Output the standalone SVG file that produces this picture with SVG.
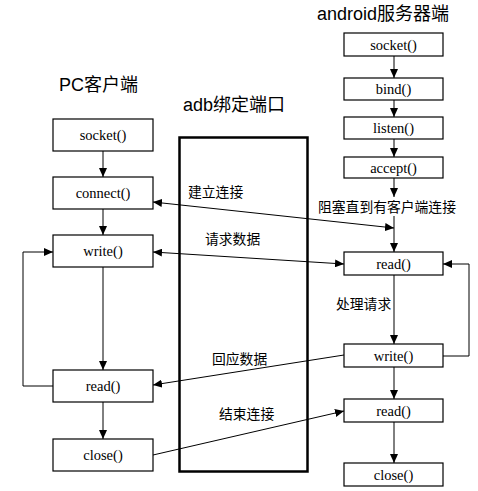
<svg xmlns="http://www.w3.org/2000/svg" width="478" height="491" viewBox="0 0 478 491">
<style>
.box{fill:#fff;stroke:#000;stroke-width:1.2}
.bt{font-family:"Liberation Serif","Times New Roman",serif;font-size:14.5px;fill:#000;text-anchor:middle}
.title{font-family:"Liberation Sans","Noto Sans CJK SC",sans-serif;font-size:18px;fill:#000}
.lbl{font-family:"Liberation Sans","Noto Sans CJK SC",sans-serif;font-size:13.8px;fill:#000}
.ln{fill:none;stroke:#000;stroke-width:1}
.arr{marker-end:url(#ah)}
.dbl{marker-start:url(#ah);marker-end:url(#ah)}
</style>
<defs>
<marker id="ah" viewBox="0 0 9 8" refX="9" refY="4" markerWidth="9" markerHeight="8" markerUnits="userSpaceOnUse" orient="auto-start-reverse">
<path d="M0,0 L9,4 L0,8 z" fill="#000"/>
</marker>
</defs>
<rect width="478" height="491" fill="#fff"/>
<g id="titles">
<text class="title" x="59" y="91">PC客户端</text>
<text class="title" x="183" y="111">adb绑定端口</text>
<text class="title" x="317" y="20">android服务器端</text>
</g>
<g id="adb">
<rect x="179.5" y="137.5" width="128" height="334" fill="none" stroke="#000" stroke-width="2.5"/>
</g>
<g id="pc-socket"><rect class="box" x="53" y="119" width="100" height="32"/><text class="bt" x="103" y="140">socket()</text></g>
<g id="pc-connect"><rect class="box" x="53" y="177" width="100" height="32"/><text class="bt" x="103" y="198">connect()</text></g>
<g id="pc-write"><rect class="box" x="53" y="235" width="100" height="32"/><text class="bt" x="103" y="256">write()</text></g>
<g id="pc-read"><rect class="box" x="53" y="370" width="100" height="32"/><text class="bt" x="103" y="391">read()</text></g>
<g id="pc-close"><rect class="box" x="53" y="439" width="100" height="32"/><text class="bt" x="103" y="460">close()</text></g>
<g id="an-socket"><rect class="box" x="344" y="33" width="99" height="23"/><text class="bt" x="393.5" y="49.5">socket()</text></g>
<g id="an-bind"><rect class="box" x="344" y="78" width="99" height="22"/><text class="bt" x="393.5" y="94">bind()</text></g>
<g id="an-listen"><rect class="box" x="344" y="117" width="99" height="22"/><text class="bt" x="393.5" y="133">listen()</text></g>
<g id="an-accept"><rect class="box" x="344" y="157" width="99" height="21"/><text class="bt" x="393.5" y="172.5">accept()</text></g>
<g id="an-read1"><rect class="box" x="344" y="252" width="99" height="23"/><text class="bt" x="393.5" y="268.5">read()</text></g>
<g id="an-write"><rect class="box" x="344" y="344" width="99" height="23"/><text class="bt" x="393.5" y="360.5">write()</text></g>
<g id="an-read2"><rect class="box" x="344" y="399" width="99" height="23"/><text class="bt" x="393.5" y="415.5">read()</text></g>
<g id="an-close"><rect class="box" x="344" y="463" width="99" height="23"/><text class="bt" x="393.5" y="479.5">close()</text></g>
<g id="connectors">
<line class="ln arr" x1="103" y1="151" x2="103" y2="177"/>
<line class="ln arr" x1="103" y1="209" x2="103" y2="235"/>
<line class="ln arr" x1="103" y1="267" x2="103" y2="370"/>
<line class="ln arr" x1="103" y1="402" x2="103" y2="439"/>
<polyline class="ln arr" points="53,386 23,386 23,252 53,252"/>
<line class="ln arr" x1="394" y1="56" x2="394" y2="78"/>
<line class="ln arr" x1="394" y1="100" x2="394" y2="117"/>
<line class="ln arr" x1="394" y1="139" x2="394" y2="157"/>
<line class="ln arr" x1="394" y1="178" x2="394" y2="197"/>
<line class="ln arr" x1="394" y1="216" x2="394" y2="252"/>
<line class="ln arr" x1="394" y1="275" x2="394" y2="344"/>
<line class="ln arr" x1="394" y1="367" x2="394" y2="399"/>
<line class="ln arr" x1="394" y1="422" x2="394" y2="463"/>
<polyline class="ln arr" points="443,356 469,356 469,264 443,264"/>
<line class="ln dbl" x1="153" y1="202" x2="394" y2="228"/>
<line class="ln dbl" x1="153" y1="252" x2="344" y2="264"/>
<line class="ln arr" x1="344" y1="355" x2="153" y2="385"/>
<line class="ln arr" x1="153" y1="455" x2="344" y2="411"/>
</g>
<g id="labels">
<text class="lbl" x="188" y="197">建立连接</text>
<text class="lbl" x="318" y="212">阻塞直到有客户端连接</text>
<text class="lbl" x="205" y="244">请求数据</text>
<text class="lbl" x="336" y="309">处理请求</text>
<text class="lbl" x="212" y="364">回应数据</text>
<text class="lbl" x="219" y="419">结束连接</text>
</g>
</svg>
